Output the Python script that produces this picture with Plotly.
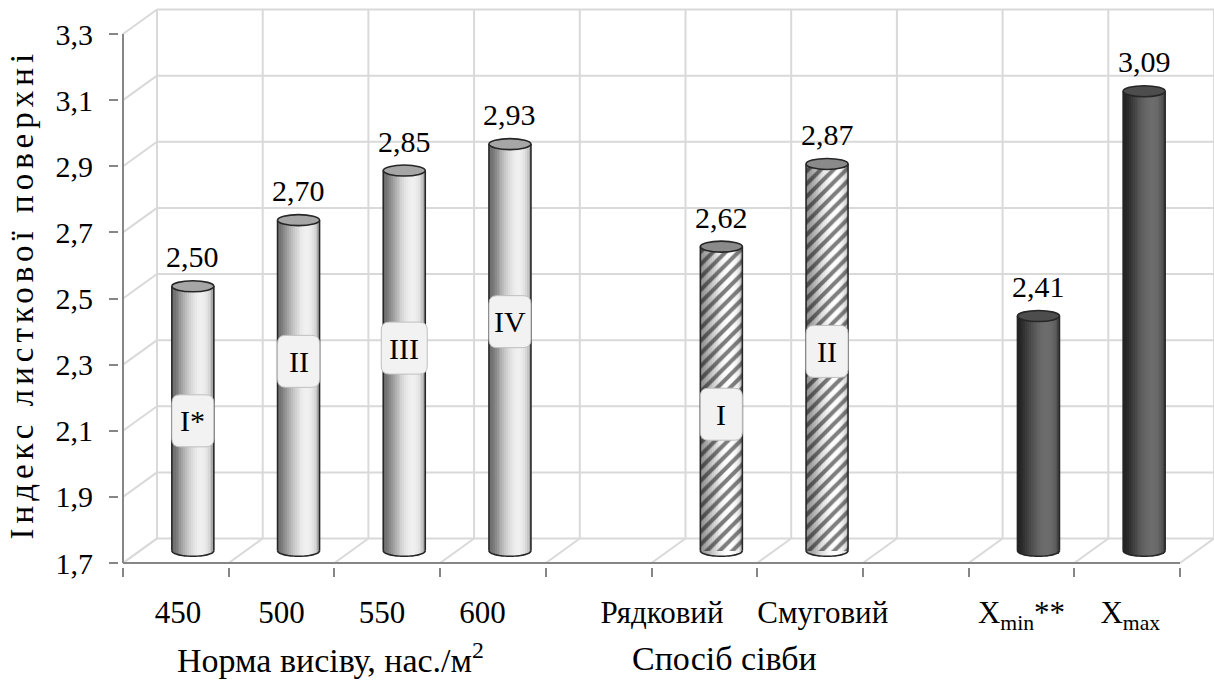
import numpy as np
import plotly.graph_objects as go

# ---- data -------------------------------------------------------------
categories = ["450", "500", "550", "600", "",
              "Рядковий", "Смуговий", "",
              "X<sub>min</sub>**", "X<sub>max</sub>"]
lai = [2.50, 2.70, 2.85, 2.93, None, 2.62, 2.87, None, 2.41, 3.09]
bar_styles = ["solid", "solid", "solid", "solid", None,
              "hatch", "hatch", None, "dark", "dark"]
variant_tags = ["I*", "II", "III", "IV", None, "I", "II", None, None, None]
tag_levels = [2.13, 2.31, 2.35, 2.43, None, 2.15, 2.34, None, None, None]
label_nudge = [0.02, 0.0, -0.05, -0.1, 0.0, -0.40, 0.12, 0.0, 0.0, 0.03]
y_ticks = [1.7, 1.9, 2.1, 2.3, 2.5, 2.7, 2.9, 3.1, 3.3]
group_titles = ["Норма висіву, нас./м<sup>2</sup>", "Спосіб сівби"]
group_centers = [1.96, 5.69]
y_title = "Індекс листкової поверхні"

# ---- geometry of the pseudo-3D box (pixels -> axis units) -----------
W_FIG, H_FIG = 1214, 680
X0_PX, Y0_PX = 123, 563          # pixel position of x=0, y=1.7
UX, UY = 105.7, 330.6            # pixels per axis unit
PAD = 4
Y_LO, Y_HI = y_ticks[0], y_ticks[-1]
NCAT = len(categories)
DX, DY = 34 / UX, 24.5 / UY       # depth offset of the back wall
BW = 42 / UX                      # cylinder diameter
RY = 5.5 / UY                     # ellipse half height
FONT = "Liberation Serif, Times New Roman, Tinos, serif"
GRID = "#d9d9d9"
AXIS = "#868686"
EDGE = "#262626"

m_l = X0_PX - PAD
m_t = 6
m_b = H_FIG - Y0_PX - PAD
plot_w = W_FIG - m_l
plot_h = H_FIG - m_t - m_b
x_range = [-PAD / UX, (plot_w - PAD) / UX]
y_range = [Y_LO - PAD / UY, Y_LO + (plot_h - PAD) / UY]

palette = {
    "solid": dict(lo=(112, 112, 112), hi=(240, 240, 240), top="#a6a6a6"),
    "hatch": dict(lo=(150, 150, 150), hi=(255, 255, 255), top="#8a8a8a"),
    "dark": dict(lo=(36, 36, 36), hi=(108, 108, 108), top="#4d4d4d"),
}


def shade(t, lo, hi, phi=0.4):
    i = max(0.0, np.cos(np.arcsin(t) - phi)) ** 1.8
    return "rgb({},{},{})".format(*[int(round(a + (b - a) * i)) for a, b in zip(lo, hi)])


idx = [k for k, v in enumerate(lai) if v is not None]
centers = [k + 0.5 + DX / 2 for k in idx]
vals = [lai[k] for k in idx]
styles = [bar_styles[k] for k in idx]
y_bot = Y_LO + DY / 2
tops = [v + DY / 2 for v in vals]

fig = go.Figure()

# cylinder bodies: thin vertical strips with cylindrical shading
N = 22
sw = BW / N
for j in range(N):
    t = -1 + (2 * j + 1) / N
    base_j = y_bot - RY * np.sqrt(max(0.0, 1 - t * t))
    extra = 0.6 * sw if j < N - 1 else 0.0
    fig.add_trace(go.Bar(
        x=centers,
        y=[tp - base_j for tp in tops],
        base=[base_j] * len(centers),
        width=sw + extra,
        offset=-BW / 2 + j * sw,
        marker=dict(color=[shade(t, palette[s]["lo"], palette[s]["hi"]) for s in styles],
                    line=dict(width=0)),
        hoverinfo="skip", showlegend=False,
    ))

# diagonal hatching on the sowing-method cylinders
h_idx = [i for i, s in enumerate(styles) if s == "hatch"]
fig.add_trace(go.Bar(
    x=[centers[i] for i in h_idx],
    y=[tops[i] - y_bot for i in h_idx],
    base=[y_bot] * len(h_idx),
    width=BW, offset=-BW / 2,
    marker=dict(color="rgba(0,0,0,0)", line=dict(width=0),
                pattern=dict(shape="/", fgcolor="#000000", size=9,
                             solidity=0.45, fillmode="overlay")),
    hoverinfo="skip", showlegend=False,
))

shapes = []


def line(x0, y0, x1, y1, color, width, layer="below"):
    shapes.append(dict(type="line", xref="x", yref="y", x0=x0, y0=y0, x1=x1, y1=y1,
                       line=dict(color=color, width=width), layer=layer))


# back wall
for v in y_ticks:
    line(DX, v + DY, NCAT + DX, v + DY, GRID, 2)
for k in range(NCAT + 1):
    line(k + DX, Y_LO + DY, k + DX, Y_HI + DY, GRID, 2)
# side wall and floor
for v in y_ticks:
    line(0, v, DX, v + DY, GRID, 2)
for k in range(NCAT + 1):
    line(k, Y_LO, k + DX, Y_LO + DY, GRID, 2)
# front axes
line(0, Y_LO, 0, Y_HI, AXIS, 2)
line(0, Y_LO, NCAT, Y_LO, AXIS, 2)

# cylinder outlines and caps
for c, tp, s in zip(centers, tops, styles):
    line(c - BW / 2, y_bot, c - BW / 2, tp, EDGE, 1.6, "above")
    line(c + BW / 2, y_bot, c + BW / 2, tp, EDGE, 1.6, "above")
    ang = np.linspace(np.pi, 2 * np.pi, 25)
    pts = [(c + BW / 2 * np.cos(a), y_bot + RY * np.sin(a)) for a in ang]
    path = "M " + " L ".join(f"{px:.5f},{py:.5f}" for px, py in pts)
    shapes.append(dict(type="path", xref="x", yref="y", path=path,
                       line=dict(color=EDGE, width=1.6), layer="above"))
    shapes.append(dict(type="circle", xref="x", yref="y",
                       x0=c - BW / 2, x1=c + BW / 2, y0=tp - RY, y1=tp + RY,
                       fillcolor=palette[s]["top"], line=dict(color=EDGE, width=1.6),
                       layer="above"))


# rounded label boxes
def rounded_box(cx, cy, wpx, hpx, rpx):
    hw, hh = wpx / 2 / UX, hpx / 2 / UY
    rx, ry = rpx / UX, rpx / UY
    x0, x1, y0, y1 = cx - hw, cx + hw, cy - hh, cy + hh
    return (f"M {x0 + rx},{y0} L {x1 - rx},{y0} Q {x1},{y0} {x1},{y0 + ry} "
            f"L {x1},{y1 - ry} Q {x1},{y1} {x1 - rx},{y1} L {x0 + rx},{y1} "
            f"Q {x0},{y1} {x0},{y1 - ry} L {x0},{y0 + ry} Q {x0},{y0} {x0 + rx},{y0} Z")


annotations = [dict(text=y_title, xref="paper", yref="paper",
                    x=(22 - m_l) / plot_w,
                    y=1 - (294 - m_t) / plot_h,
                    xanchor="center", yanchor="middle", textangle=-90,
                    showarrow=False, font=dict(family=FONT, size=33, color="#000"))]

for k in idx:
    c = k + 0.5 + DX / 2
    tp = lai[k] + DY / 2
    annotations.append(dict(text=f"{lai[k]:.2f}".replace(".", ","), x=c, y=tp,
                            xref="x", yref="y", xanchor="center", yanchor="bottom",
                            yshift=11, showarrow=False,
                            font=dict(family=FONT, size=30, color="#000")))
    if variant_tags[k]:
        wpx = 46 if len(variant_tags[k]) > 2 else 42
        shapes.append(dict(type="path", xref="x", yref="y",
                           path=rounded_box(c, tag_levels[k], wpx, 52, 8),
                           fillcolor="#f2f2f2", line=dict(color="#bfbfbf", width=1),
                           layer="above"))
        annotations.append(dict(text=variant_tags[k], x=c, y=tag_levels[k],
                                xref="x", yref="y", xanchor="center", yanchor="middle",
                                showarrow=False,
                                font=dict(family=FONT, size=30, color="#000")))

for title, gx in zip(group_titles, group_centers):
    annotations.append(dict(text=title, x=gx, xref="x", y=1 - (658 - m_t) / plot_h,
                            yref="paper", xanchor="center", yanchor="middle",
                            showarrow=False, font=dict(family=FONT, size=34, color="#000")))

tick_pos = [k + 0.5 + label_nudge[k] for k in range(NCAT) if categories[k]]
tick_txt = [categories[k] for k in range(NCAT) if categories[k]]

fig.update_layout(
    width=W_FIG, height=H_FIG, autosize=False,
    margin=dict(l=m_l, r=0, t=m_t, b=m_b, pad=0),
    paper_bgcolor="white", plot_bgcolor="white",
    barmode="overlay", bargap=0,
    separators=", ",
    font=dict(family=FONT, size=30, color="#000"),
    shapes=shapes, annotations=annotations,
    xaxis=dict(range=x_range, showgrid=False, zeroline=False, showline=False,
               tickmode="array", tickvals=tick_pos, ticktext=tick_txt, ticks="",
               tickfont=dict(family=FONT, size=31, color="#000"),
               ticklabelstandoff=24, automargin=False, fixedrange=True,
               minor=dict(tickmode="array", tickvals=list(range(NCAT + 1)),
                          ticks="outside", ticklen=9, tickwidth=2,
                          tickcolor=AXIS, showgrid=False)),
    yaxis=dict(range=y_range, showgrid=False, zeroline=False, showline=False,
               tickmode="array", tickvals=y_ticks, tickformat=".1f",
               ticks="outside", ticklen=9, tickwidth=2, tickcolor=AXIS,
               tickfont=dict(family=FONT, size=30, color="#000"),
               ticklabelstandoff=10, automargin=False, fixedrange=True),
)

spacing_js = ("var t=document.querySelector('.annotation[data-index=\"0\"] .annotation-text');"
              "if(t){t.style.letterSpacing='5px';}")
fig.write_html("out.html", post_script=spacing_js)
